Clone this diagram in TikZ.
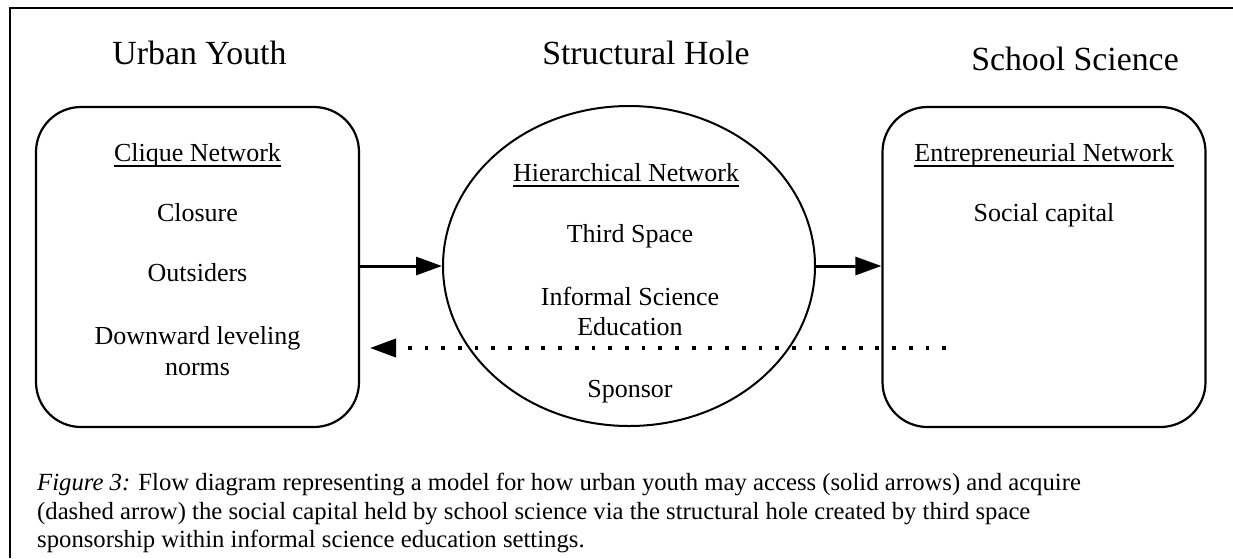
\documentclass[tikz,border=0pt]{standalone}
\usepackage{fontspec}
\setmainfont{Liberation Serif}
\usetikzlibrary{arrows.meta,shapes.geometric}
\begin{document}
\begin{tikzpicture}[x=1pt,y=-1pt,
  heading/.style={anchor=base,inner sep=0pt,font=\fontsize{33.8}{40}\selectfont},
  body/.style={anchor=base,inner sep=0pt,font=\fontsize{26}{31}\selectfont},
  capt/.style={anchor=base west,inner sep=0pt,font=\fontsize{24.7}{29}\selectfont},
  netbox/.style={draw,line width=2.2pt,rounded corners=45pt,minimum width=323pt,minimum height=320pt,inner sep=0pt},
  hole/.style={draw,ellipse,line width=2pt,minimum width=372pt,minimum height=320pt,inner sep=0pt},
  ul/.style={line width=1.6pt},
  solidarrow/.style={line width=3pt,-{Triangle[length=26pt,width=18pt]}},
  dotarrow/.style={line width=3.8pt,dash pattern=on 3.8pt off 12.9pt,-{Triangle[length=26pt,width=18pt]}},
  frame/.style={line width=2.2pt}]
\useasboundingbox (0,0) rectangle (1233,558);
% frame
\coordinate (fbl) at (10,558);
\coordinate (ftl) at (10,8);
\coordinate (ftr) at (1233,8);
\draw[frame] (fbl) -- (ftl) -- (ftr);
% headings
\node[heading] (hUY) at (199.5,64) {Urban Youth};
\node[heading] (hSH) at (646,64) {Structural Hole};
\node[heading] (hSS) at (1075,70) {School Science};
% shapes
\node[netbox] (clique) at (197.5,267) {};
\node[hole] (hole) at (629,266) {};
\node[netbox] (entre) at (1044,267) {};
% left texts
\node[body] (cn) at (197.5,161) {Clique Network};
\draw[ul] ([yshift=-5pt]cn.base west) -- ([yshift=-5pt]cn.base east);
\node[body] (closure) at (197.5,221) {Closure};
\node[body] (outs) at (197.5,281) {Outsiders};
\node[body] (down) at (197.5,344) {Downward leveling};
\node[body] (norms) at (197.5,375) {norms};
% middle texts
\node[body] (hn) at (626,181) {Hierarchical Network};
\draw[ul] ([yshift=-5pt]hn.base west) -- ([yshift=-5pt]hn.base east);
\node[body] (ts) at (630,242) {Third Space};
\node[body] (ise) at (630,305) {Informal Science};
\node[body] (edu) at (630,335) {Education};
\node[body] (sp) at (630,397) {Sponsor};
% right texts
\node[body] (en) at (1044,161) {Entrepreneurial Network};
\draw[ul] ([yshift=-5pt]en.base west) -- ([yshift=-5pt]en.base east);
\node[body] (sc) at (1044,221) {Social capital};
% arrows
\draw[solidarrow] (hole.west -| clique.east) -- (hole.west);
\draw[solidarrow] (hole.east) -- (hole.east -| entre.west);
\coordinate (dotstart) at (946,348);
\coordinate (dotend) at (370,348);
\draw[dotarrow] (dotstart) -- (dotend);
% caption
\node[capt] (cap1) at (37,490) {\textit{Figure 3:} Flow diagram representing a model for how urban youth may access (solid arrows) and acquire};
\node[capt] (cap2) at (37,519) {(dashed arrow) the social capital held by school science via the structural hole created by third space};
\node[capt] (cap3) at (37,547) {sponsorship within informal science education settings.};
\end{tikzpicture}
\end{document}
